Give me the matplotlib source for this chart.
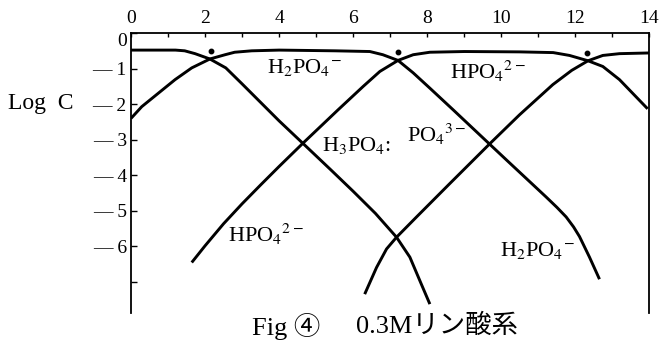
import matplotlib
matplotlib.use("Agg")
import matplotlib.pyplot as plt
from matplotlib.transforms import ScaledTranslation

plt.rcParams['font.family'] = ['Liberation Serif', 'Noto Sans CJK JP']
plt.rcParams['mathtext.fontset'] = 'stix'

# pH axis (x) and -log C (y, drawn downward) for each species
ph_h3po4 = [0, 0.6, 1.2, 1.45, 1.73, 2.13, 2.56, 3.0, 3.5, 4.0, 4.64, 5.4, 6.0, 6.6, 7.17, 7.53, 7.84, 8.07]
logc_h3po4 = [0.48, 0.48, 0.48, 0.5, 0.58, 0.73, 0.98, 1.43, 1.95, 2.47, 3.1, 3.85, 4.45, 5.07, 5.74, 6.3, 7.06, 7.62]

ph_h2po4 = [0, 0.29, 0.74, 1.19, 1.64, 2.13, 2.54, 2.8, 3.26, 4.0, 5.5, 6.45, 6.8, 7.21, 7.62, 8.07, 8.7,
            9.68, 10.14, 11.21, 11.5, 11.75, 11.95, 12.11, 12.38, 12.65]
logc_h2po4 = [2.4, 2.07, 1.69, 1.31, 0.98, 0.73, 0.61, 0.54, 0.5, 0.48, 0.5, 0.52, 0.61, 0.77, 1.12, 1.55, 2.16,
              3.12, 3.57, 4.61, 4.9, 5.17, 5.45, 5.72, 6.3, 6.92]

ph_hpo4 = [1.64, 2.0, 2.5, 3.0, 3.5, 4.0, 4.64, 5.59, 6.27, 6.72, 7.21, 7.62, 8.07, 9.0, 10.5, 11.4, 11.84,
           12.34, 12.74, 13.19, 13.95]
logc_hpo4 = [6.45, 5.98, 5.36, 4.8, 4.27, 3.75, 3.1, 2.16, 1.5, 1.08, 0.77, 0.61, 0.54, 0.52, 0.53, 0.55, 0.63,
             0.78, 0.94, 1.31, 2.13]

ph_po4 = [6.31, 6.63, 6.9, 7.17, 7.71, 8.6, 9.68, 10.49, 11.39, 11.9, 12.34, 12.74, 13.19, 14.0]
logc_po4 = [7.34, 6.59, 6.07, 5.74, 5.17, 4.24, 3.12, 2.3, 1.45, 1.05, 0.78, 0.63, 0.58, 0.56]

pka_ph = [2.15, 7.2, 12.3]
pka_logc = [0.5, 0.54, 0.56]

species = [r"H$_2$PO$_4$$^{-}$", r"HPO$_4$$^{2-}$", r"H$_3$PO$_4$:", r"PO$_4$$^{3-}$",
           r"HPO$_4$$^{2-}$", r"H$_2$PO$_4$$^{-}$"]
species_ph = [4.69, 9.63, 6.1, 8.26, 3.63, 10.98]
species_logc = [0.98, 1.07, 3.15, 2.84, 5.67, 6.12]

xticks = list(range(0, 15, 2))
yticks = list(range(0, 8))
ytick_labels = ['0', '— 1', '— 2', '— 3', '— 4', '— 5', '— 6', '']

fig = plt.figure(figsize=(6.66, 3.44), dpi=100)
ax = fig.add_axes([0.1967, 0.0901, 0.9752 - 0.1967, 0.904 - 0.0901])

for xs, ys in [(ph_h3po4, logc_h3po4), (ph_h2po4, logc_h2po4),
               (ph_hpo4, logc_hpo4), (ph_po4, logc_po4)]:
    ax.plot(xs, ys, color='black', lw=2.1, solid_capstyle='butt', solid_joinstyle='round')

ax.plot(pka_ph, pka_logc, 'o', color='black', ms=3.2)

for s, x, y in zip(species, species_ph, species_logc):
    ax.text(x, y, s, fontsize=16, ha='center', va='center')

ax.set_xlim(0, 14)
ax.set_ylim(7.87, 0)

ax.xaxis.tick_top()
ax.set_xticks(xticks)
ax.set_xticks(range(0, 15), minor=True)
ax.tick_params(axis='x', which='both', direction='in', length=3, width=1, labelsize=14, pad=4)
ax.set_yticks(yticks)
ax.set_yticklabels(ytick_labels)
ax.tick_params(axis='y', direction='in', length=4, width=1, labelsize=14, pad=3)

# nudge the corner "0" down a little, away from the x labels
zero = ax.get_yticklabels()[0]
zero.set_transform(zero.get_transform() + ScaledTranslation(0, -5 / 72, fig.dpi_scale_trans))

ax.spines['bottom'].set_visible(False)
for side in ['top', 'left', 'right']:
    ax.spines[side].set_linewidth(1.3)

fig.text(0.012, 0.698, 'Log  C', fontsize=17, ha='left', va='center')
fig.text(0.379, 0.052, 'Fig ④', fontsize=19, ha='left', va='center')
fig.text(0.535, 0.052, '0.3Mリン酸系', fontsize=19, ha='left', va='center')

fig.savefig('out.png', dpi=100)
